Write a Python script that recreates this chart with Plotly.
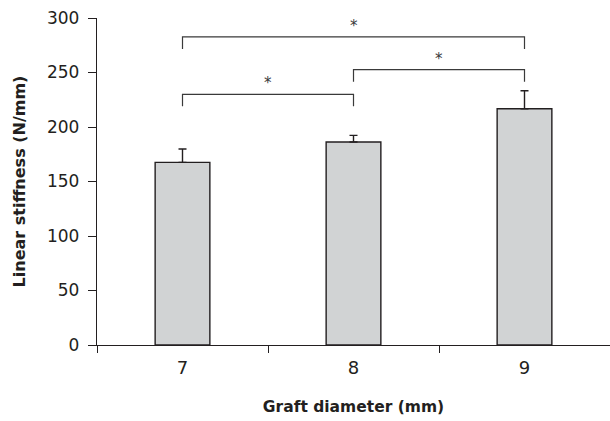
import plotly.graph_objects as go

categories = ["7", "8", "9"]
stiffness = [167.5, 186.2, 216.8]
stiffness_sd = [12.3, 6.1, 16.5]

# significance comparisons (index pairs), bracket heights, and labels
comp_left = [0, 1, 0]
comp_right = [1, 2, 2]
comp_height = [230, 252.6, 282.6]
comp_label = ["*", "*", "*"]
bracket_drop = 11

ytick_vals = [0, 50, 100, 150, 200, 250, 300]

FONT = "DejaVu Sans"
INK = "#231f20"

fig = go.Figure()
fig.add_trace(go.Bar(
    x=categories, y=stiffness,
    width=0.32,
    marker=dict(color="#d1d3d4", line=dict(color=INK, width=1.4)),
    error_y=dict(type="data", array=stiffness_sd, symmetric=False,
                 arrayminus=[0, 0, 0], color=INK, thickness=1.4, width=4),
    showlegend=False,
))

shapes = []
annotations = []
for l, r, h, lab in zip(comp_left, comp_right, comp_height, comp_label):
    shapes.append(dict(type="path", xref="x", yref="y",
                       path=f"M {l},{h - bracket_drop} L {l},{h} L {r},{h} L {r},{h - bracket_drop}",
                       line=dict(color="#3a3a3a", width=1.2)))
    annotations.append(dict(x=(l + r) / 2, y=h + 10, xref="x", yref="y",
                            text=lab, showarrow=False, yanchor="middle",
                            font=dict(family=FONT, size=15, color="#3a3a3a")))

fig.update_layout(
    width=610, height=421,
    margin=dict(l=97, r=0, t=18, b=76, autoexpand=False),
    paper_bgcolor="white", plot_bgcolor="white",
    shapes=shapes, annotations=annotations,
    font=dict(family=FONT, color=INK),
    xaxis=dict(
        type="category", range=[-0.5, 2.5],
        tickson="boundaries", ticks="outside", ticklen=7, tickwidth=1.2, tickcolor=INK,
        showline=True, linecolor=INK, linewidth=1.4, showgrid=False, zeroline=False,
        tickfont=dict(family=FONT, size=18, color=INK), ticklabelstandoff=6,
        title=dict(text="<b>Graft diameter (mm)</b>", font=dict(family=FONT, size=15.5, color=INK), standoff=24),
    ),
    yaxis=dict(
        range=[0, 300], tickvals=ytick_vals,
        ticks="outside", ticklen=8, tickwidth=1.2, tickcolor=INK,
        showline=True, linecolor=INK, linewidth=1.4, showgrid=False, zeroline=False,
        tickfont=dict(family=FONT, size=17, color=INK), ticklabelstandoff=5,
        title=dict(text="<b>Linear stiffness (N/mm)</b>", font=dict(family=FONT, size=16, color=INK), standoff=17),
    ),
)

fig.write_html("out.html", config={"displayModeBar": False},
               post_script="document.body.style.margin='0';")
